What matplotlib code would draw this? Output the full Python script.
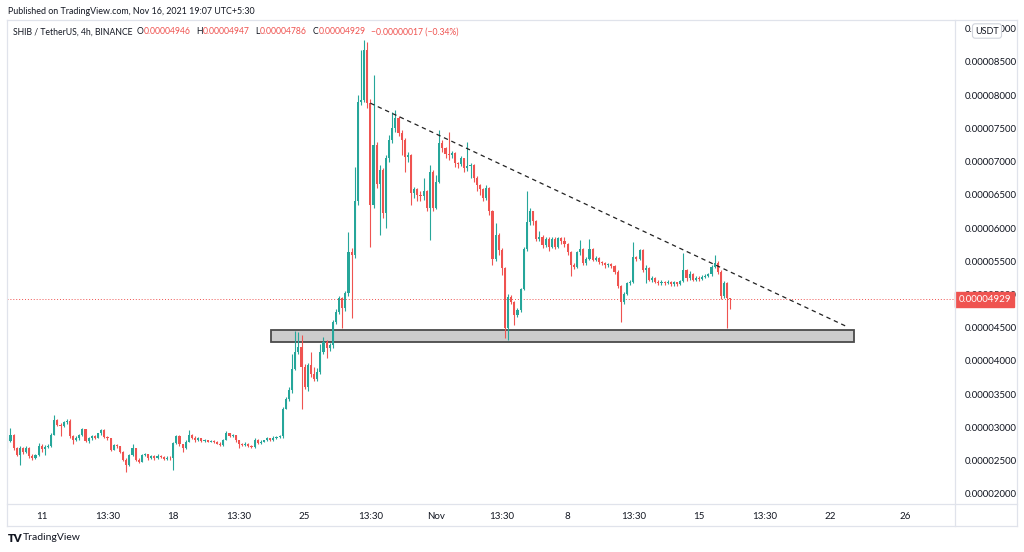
import numpy as np
import matplotlib
matplotlib.use("Agg")
import matplotlib.pyplot as plt
from matplotlib.lines import Line2D

plt.rcParams['font.family'] = ['Lato', 'DejaVu Sans']

UP = '#26a69a'
DOWN = '#ef5350'
TXT = '#131722'
FRAME = '#e0e3eb'

# SHIB/USDT 4h candles, prices in units of 0.00001 USDT (open = previous close)
first_open = 2.71
closes = [
    2.79, 2.89, 2.68, 2.58, 2.69, 2.63, 2.68, 2.56, 2.53, 2.58, 2.72, 2.67,
    2.70, 2.72, 2.89, 3.11, 3.04, 3.02, 3.08, 3.10, 2.86, 2.81, 2.83, 2.88,
    2.97, 2.79, 2.83, 2.86, 2.84, 2.91, 2.96, 2.85, 2.83, 2.66, 2.73, 2.71,
    2.63, 2.51, 2.43, 2.58, 2.68, 2.51, 2.48, 2.58, 2.59, 2.53, 2.56, 2.53,
    2.57, 2.55, 2.52, 2.54, 2.53, 2.76, 2.87, 2.74, 2.68, 2.78, 2.89, 2.84,
    2.80, 2.83, 2.79, 2.80, 2.78, 2.79, 2.78, 2.75, 2.73, 2.81, 2.91, 2.86,
    2.88, 2.80, 2.74, 2.73, 2.75, 2.71, 2.70, 2.81, 2.76, 2.78, 2.80, 2.83,
    2.80, 2.84, 2.85, 2.86, 3.28, 3.43, 3.56, 3.88, 4.14, 4.21, 3.91, 3.61,
    3.93, 3.80, 3.73, 3.83, 4.14, 4.29, 4.20, 4.24, 4.59, 4.74, 4.94, 4.79,
    5.02, 5.64, 5.59, 6.40, 7.90, 7.93, 8.68, 7.88, 6.35, 7.25, 6.67, 6.87,
    6.22, 7.05, 7.32, 7.50, 7.65, 7.43, 7.32, 7.07, 7.10, 6.52, 6.58, 6.50,
    6.48, 6.55, 6.30, 6.85, 6.30, 6.70, 7.28, 7.20, 7.12, 7.10, 7.13, 6.98,
    6.96, 7.05, 6.90, 6.94, 6.95, 6.76, 6.65, 6.58, 6.45, 6.60, 6.25, 5.54,
    5.89, 5.67, 5.40, 4.49, 4.96, 4.89, 4.69, 4.76, 5.08, 5.69, 6.09, 6.25,
    6.10, 5.84, 5.87, 5.74, 5.84, 5.72, 5.84, 5.72, 5.85, 5.80, 5.76, 5.64,
    5.44, 5.42, 5.64, 5.69, 5.47, 5.54, 5.69, 5.52, 5.55, 5.49, 5.47, 5.44,
    5.46, 5.43, 5.34, 5.12, 4.89, 5.01, 5.17, 5.19, 5.57, 5.54, 5.67, 5.37,
    5.40, 5.22, 5.25, 5.19, 5.17, 5.19, 5.17, 5.19, 5.15, 5.18, 5.16, 5.20,
    5.37, 5.25, 5.30, 5.22, 5.25, 5.23, 5.26, 5.28, 5.30, 5.42, 5.47, 5.34,
    4.97, 5.17, 4.946, 4.929,
]
highs = [
    2.83, 2.99, 2.90, 2.70, 2.72, 2.70, 2.72, 2.70, 2.60, 2.60, 2.76, 2.75,
    2.73, 2.75, 2.92, 3.18, 3.12, 3.06, 3.10, 3.13, 3.12, 2.88, 2.86, 2.90,
    2.99, 2.98, 2.85, 2.88, 2.88, 2.92, 2.97, 2.97, 2.87, 2.84, 2.75, 2.74,
    2.72, 2.64, 2.53, 2.60, 2.74, 2.69, 2.53, 2.59, 2.61, 2.60, 2.58, 2.58,
    2.59, 2.58, 2.56, 2.56, 2.56, 2.78, 2.88, 2.88, 2.75, 2.80, 2.96, 2.90,
    2.86, 2.85, 2.84, 2.82, 2.81, 2.81, 2.80, 2.79, 2.77, 2.82, 2.94, 2.92,
    2.90, 2.88, 2.81, 2.76, 2.77, 2.76, 2.73, 2.83, 2.82, 2.80, 2.81, 2.85,
    2.84, 2.86, 2.87, 2.88, 3.30, 3.45, 3.60, 4.10, 4.45, 4.44, 4.39, 3.95,
    3.96, 4.13, 3.90, 3.89, 4.26, 4.36, 4.31, 4.27, 4.62, 4.78, 4.97, 4.96,
    5.05, 5.94, 5.70, 6.92, 8.00, 8.68, 8.83, 8.80, 7.95, 8.30, 7.30, 6.95,
    6.90, 7.10, 7.40, 7.75, 7.78, 7.68, 7.48, 7.35, 7.15, 7.12, 6.62, 6.60,
    6.55, 6.75, 6.57, 6.95, 6.88, 6.80, 7.48, 7.32, 7.22, 7.45, 7.16, 7.15,
    7.00, 7.08, 7.06, 7.30, 6.98, 6.96, 6.78, 6.66, 6.60, 6.65, 6.62, 6.27,
    6.08, 5.92, 5.70, 5.42, 5.00, 4.99, 4.90, 4.80, 5.10, 5.72, 6.55, 6.30,
    6.26, 6.12, 5.95, 5.90, 5.87, 5.86, 5.87, 5.86, 5.87, 5.87, 5.86, 5.78,
    5.66, 5.47, 5.66, 5.82, 5.70, 5.56, 5.84, 5.70, 5.58, 5.56, 5.50, 5.49,
    5.48, 5.47, 5.45, 5.36, 5.14, 5.04, 5.19, 5.21, 5.79, 5.58, 5.69, 5.68,
    5.44, 5.41, 5.27, 5.26, 5.21, 5.21, 5.20, 5.21, 5.20, 5.20, 5.19, 5.22,
    5.62, 5.39, 5.35, 5.32, 5.28, 5.27, 5.29, 5.31, 5.32, 5.45, 5.59, 5.50,
    5.36, 5.20, 5.18, 4.947,
]
lows = [
    2.68, 2.77, 2.66, 2.56, 2.43, 2.60, 2.61, 2.54, 2.51, 2.52, 2.57, 2.63,
    2.58, 2.68, 2.70, 2.88, 3.02, 2.86, 3.00, 3.05, 2.84, 2.74, 2.79, 2.81,
    2.86, 2.77, 2.76, 2.81, 2.82, 2.83, 2.89, 2.83, 2.81, 2.64, 2.65, 2.69,
    2.61, 2.49, 2.33, 2.42, 2.56, 2.49, 2.46, 2.47, 2.56, 2.50, 2.52, 2.51,
    2.52, 2.53, 2.51, 2.50, 2.51, 2.36, 2.74, 2.72, 2.63, 2.67, 2.77, 2.82,
    2.78, 2.79, 2.77, 2.77, 2.77, 2.77, 2.76, 2.74, 2.72, 2.72, 2.80, 2.85,
    2.85, 2.78, 2.69, 2.71, 2.72, 2.70, 2.69, 2.69, 2.75, 2.75, 2.77, 2.79,
    2.79, 2.79, 2.82, 2.83, 2.84, 3.27, 3.40, 3.52, 3.86, 4.10, 3.28, 3.58,
    3.55, 3.75, 3.70, 3.70, 3.80, 4.10, 4.04, 4.15, 4.20, 4.55, 4.70, 4.49,
    4.75, 4.98, 4.64, 5.55, 6.35, 7.85, 7.90, 7.80, 5.72, 6.30, 6.60, 5.90,
    6.15, 6.00, 7.00, 7.28, 7.45, 7.38, 7.10, 6.85, 7.00, 6.35, 6.45, 6.40,
    6.40, 6.42, 6.25, 5.82, 6.25, 6.28, 6.68, 7.15, 7.05, 7.02, 7.05, 6.92,
    6.90, 6.94, 6.85, 6.86, 6.76, 6.70, 6.55, 6.50, 6.40, 6.42, 6.20, 5.45,
    5.50, 5.60, 5.29, 4.34, 4.31, 4.85, 4.54, 4.66, 4.74, 5.06, 5.65, 6.05,
    6.05, 5.80, 5.80, 5.70, 5.72, 5.66, 5.70, 5.68, 5.70, 5.76, 5.72, 5.59,
    5.27, 5.38, 5.40, 5.60, 5.44, 5.45, 5.52, 5.50, 5.50, 5.46, 5.44, 5.40,
    5.42, 5.40, 5.30, 5.09, 4.59, 4.86, 4.99, 5.14, 5.17, 5.50, 5.52, 5.33,
    5.17, 5.20, 5.18, 5.17, 5.14, 5.14, 5.14, 5.15, 5.12, 5.13, 5.12, 5.14,
    5.18, 5.20, 5.22, 5.20, 5.20, 5.20, 5.21, 5.24, 5.26, 5.28, 5.40, 5.30,
    4.93, 4.95, 4.49, 4.786,
]

price_ticks = [2.0, 2.5, 3.0, 3.5, 4.0, 4.5, 5.0, 5.5, 6.0, 6.5, 7.0, 7.5, 8.0, 8.5, 9.0]
time_ticks = [11, 32, 53, 74, 95, 116, 137, 158, 179, 200, 221, 242, 263, 287]
time_labels = ['11', '13:30', '18', '13:30', '25', '13:30', 'Nov', '13:30',
               '8', '13:30', '15', '13:30', '22', '26']

# drawings on the chart (candle index, price)
trend_x = [116, 268]
trend_y = [7.88, 4.52]
zone_x = [84.2, 270.5]
zone_y = [4.29, 4.47]

header = 'Published on TradingView.com, Nov 16, 2021 19:07 UTC+5:30'
legend_parts = [
    ('SHIB / TetherUS, 4h, BINANCE', TXT, 4),
    ('O', TXT, 0), ('0.00004946', DOWN, 6),
    ('H', TXT, 0), ('0.00004947', DOWN, 6),
    ('L', TXT, 0), ('0.00004786', DOWN, 6),
    ('C', TXT, 0), ('0.00004929', DOWN, 5),
    ('\u22120.00000017 (\u22120.34%)', DOWN, 0),
]

W, H = 1024, 552
fig = plt.figure(figsize=(W / 100, H / 100), dpi=100)
fig.patch.set_facecolor('white')

def fx(px):
    return px / W

def fy(py):
    return 1 - py / H

left, right, top, bottom = 7, 955, 20, 504
ax = fig.add_axes([fx(left), fy(bottom), fx(right - left), (bottom - top) / H])

c = np.array(closes)
o = np.r_[first_open, c[:-1]]
hi = np.array(highs)
lo = np.array(lows)
idx = np.arange(len(c))
cols = np.where(c >= o, UP, DOWN)

ax.vlines(idx, lo, hi, colors=cols, lw=0.8, zorder=3)
ax.bar(idx, np.maximum(np.abs(c - o), 0.012), bottom=np.minimum(o, c),
       width=0.68, color=cols, lw=0, zorder=4)

# support zone and descending trendline
ax.add_patch(plt.Rectangle((zone_x[0], zone_y[0]), zone_x[1] - zone_x[0],
                           zone_y[1] - zone_y[0], facecolor='#cccccc',
                           edgecolor='#4a4a4a', lw=1.3, zorder=2))
ax.plot(trend_x, trend_y, color='#222222', lw=0.9, ls=(0, (3.5, 3)), zorder=5)

last = c[-1]
ax.axhline(last, color=DOWN, lw=0.7, ls=(0, (1, 2)), zorder=1)

ax.set_xlim(-0.1, (right - 7.3) / 3.13)
ax.set_ylim(8.5 - (bottom - 62) / 66.4, 8.5 + (62 - top) / 66.4)

ax.set_yticks(price_ticks)
ax.set_yticklabels([f'{v * 1e-5:.8f}' for v in price_ticks])
ax.yaxis.tick_right()
ax.tick_params(axis='y', length=0, pad=7, labelsize=7, labelcolor=TXT)
ax.set_xticks(time_ticks)
ax.set_xticklabels(time_labels)
ax.tick_params(axis='x', length=0, pad=6, labelsize=7, labelcolor=TXT)
for s in ax.spines.values():
    s.set_visible(False)

# last price tag on the price scale
ax.text(1.0035, last, f'{last * 1e-5:.8f}', transform=ax.get_yaxis_transform(),
        fontsize=7, color='white', va='center', ha='left', clip_on=False,
        bbox=dict(boxstyle='square,pad=0.3', fc=DOWN, ec=DOWN), zorder=6)

# panel frame
frame = [((7, 20), (1017, 20)), ((7, 526), (1017, 526)), ((7, 20), (7, 526)),
         ((1017, 20), (1017, 526)), ((955, 20), (955, 526)), ((7, 504), (1017, 504))]
for (x0, y0), (x1, y1) in frame:
    fig.add_artist(Line2D([fx(x0), fx(x1)], [fy(y0), fy(y1)], color=FRAME, lw=0.9))

fig.text(fx(987), fy(31), 'USDT', fontsize=6.5, color=TXT, ha='center', va='center',
         bbox=dict(boxstyle='round,pad=0.3', fc='white', ec='#d1d4dc', lw=0.8))

fig.text(fx(8), fy(11), header, fontsize=6.4, color=TXT, va='center')

renderer = fig.canvas.get_renderer()
x = 13
for text, color, gap in legend_parts:
    t = fig.text(fx(x), fy(32), text, fontsize=6.2, color=color, va='center')
    x = t.get_window_extent(renderer).x1 + gap

fig.text(fx(8), fy(538), 'TV', fontsize=8, fontweight='heavy', color=TXT, va='center')
fig.text(fx(23), fy(538), 'TradingView', fontsize=7.5, color=TXT, va='center')

fig.savefig('out.png', dpi=100, facecolor='white')
